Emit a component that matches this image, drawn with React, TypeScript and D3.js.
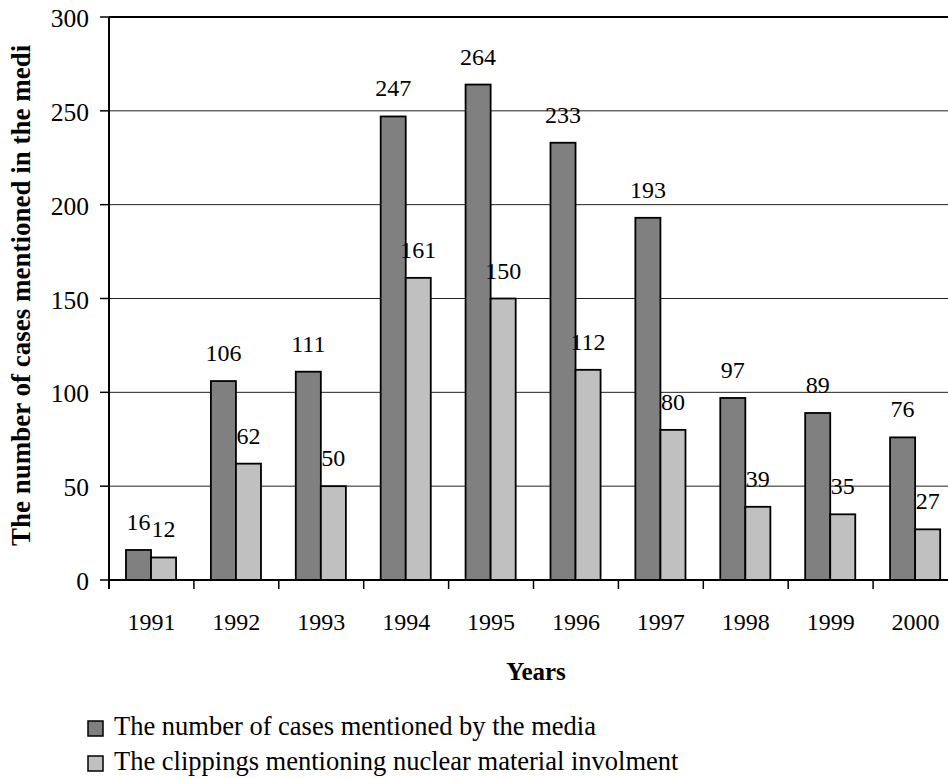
import React from "react";
import * as d3 from "d3";

const years = ["1991", "1992", "1993", "1994", "1995", "1996", "1997", "1998", "1999", "2000"];
const mediaCases = [16, 106, 111, 247, 264, 233, 193, 97, 89, 76];
const nuclearClippings = [12, 62, 50, 161, 150, 112, 80, 39, 35, 27];
const yTicks = [0, 50, 100, 150, 200, 250, 300];

const seriesKeys = ["media", "nuclear"];
const seriesNames = [
  "The number of cases mentioned by the media",
  "The clippings mentioning nuclear material involment",
];
const seriesColors = ["#808080", "#c0c0c0"];

const W = 948;
const H = 778;
const margin = { top: 17, left: 109, bottom: 580 };
const plotRight = 958;
const font = "Liberation Serif, DejaVu Serif, serif";

export default function App() {
  const x0 = d3.scaleBand().domain(years).range([margin.left, plotRight]).padding(0);
  const bw = x0.bandwidth();
  const x1 = d3
    .scaleBand()
    .domain(seriesKeys)
    .range([bw * 0.2, bw * 0.79])
    .padding(0);
  const y = d3.scaleLinear().domain([0, 300]).range([margin.bottom, margin.top]);

  const rows = years.map((yr, i) => ({
    year: yr,
    values: [mediaCases[i], nuclearClippings[i]],
  }));

  return (
    <svg
      width={W}
      height={H}
      style={{ position: "absolute", left: 0, top: 0, background: "#fff", fontFamily: font }}
    >
      <defs>
        <clipPath id="titleClip">
          <rect x={0} y={44} width={60} height={600} />
        </clipPath>
      </defs>

      {/* gridlines */}
      {yTicks.map((t) => (
        <line
          key={"g" + t}
          x1={margin.left}
          x2={plotRight}
          y1={y(t)}
          y2={y(t)}
          stroke="#222"
          strokeWidth={1}
        />
      ))}
      <line x1={margin.left} x2={plotRight} y1={y(300)} y2={y(300)} stroke="#000" strokeWidth={2} />

      {/* bars + value labels */}
      {rows.map((r) => (
        <g key={r.year} transform={`translate(${x0(r.year)},0)`}>
          {r.values.map((v, j) => (
            <rect
              key={j}
              x={x1(seriesKeys[j])}
              y={y(v)}
              width={x1.bandwidth()}
              height={y(0) - y(v)}
              fill={seriesColors[j]}
              stroke="#000"
              strokeWidth={1.8}
            />
          ))}
          {r.values.map((v, j) => (
            <text
              key={"l" + j}
              x={x1(seriesKeys[j])! + x1.bandwidth() / 2}
              y={y(v) - 20}
              textAnchor="middle"
              fontSize={24}
              fill="#000"
            >
              {v}
            </text>
          ))}
        </g>
      ))}

      {/* axes */}
      <line x1={margin.left} x2={margin.left} y1={y(300)} y2={y(0) + 9} stroke="#000" strokeWidth={2} />
      <line x1={margin.left} x2={plotRight} y1={y(0)} y2={y(0)} stroke="#000" strokeWidth={2} />
      {yTicks.map((t) => (
        <g key={"yt" + t}>
          <line x1={margin.left - 9} x2={margin.left} y1={y(t)} y2={y(t)} stroke="#000" strokeWidth={1.5} />
          <text x={margin.left - 20} y={y(t) + 10} textAnchor="end" fontSize={25.5}>
            {t}
          </text>
        </g>
      ))}
      {years.slice(1).map((yr) => (
        <line
          key={"xt" + yr}
          x1={x0(yr)}
          x2={x0(yr)}
          y1={y(0)}
          y2={y(0) + 9}
          stroke="#000"
          strokeWidth={1.5}
        />
      ))}
      {years.map((yr) => (
        <text key={"xl" + yr} x={x0(yr)! + bw / 2} y={630} textAnchor="middle" fontSize={24}>
          {yr}
        </text>
      ))}

      {/* titles */}
      <text x={536} y={680} textAnchor="middle" fontSize={25} fontWeight="bold">
        Years
      </text>
      <g clipPath="url(#titleClip)">
        <text
          transform={`translate(30,546) rotate(-90)`}
          textAnchor="start"
          fontSize={27}
          fontWeight="bold"
        >
          The number of cases mentioned in the media
        </text>
      </g>

      {/* legend */}
      {seriesNames.map((name, i) => (
        <g key={"lg" + i} transform={`translate(88,${721 + i * 35})`}>
          <rect x={0} y={0} width={15} height={15} fill={seriesColors[i]} stroke="#000" strokeWidth={1.5} />
          <text x={26} y={14} fontSize={26.5}>
            {name}
          </text>
        </g>
      ))}
    </svg>
  );
}
